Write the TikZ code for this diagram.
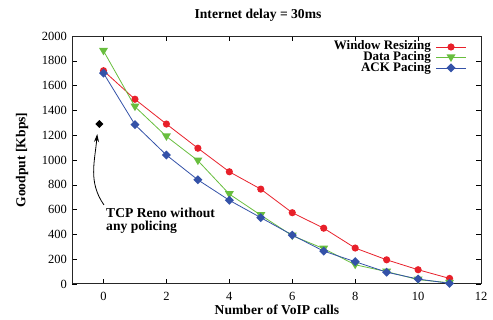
\documentclass[tikz,border=0pt]{standalone}
\usepackage{fontspec}
\setmainfont{Liberation Serif}
\usetikzlibrary{calc,arrows.meta}
\definecolor{wrred}{RGB}{232,32,42}
\definecolor{dpgreen}{RGB}{104,190,62}
\definecolor{apblue}{RGB}{52,82,168}

\tikzset{
  curve/.style={line width=0.8pt},
  lbl/.style={font=\bfseries\fontsize{13.6}{13}\selectfont, inner sep=0pt},
  keylbl/.style={font=\bfseries\fontsize{13}{13}\selectfont, inner sep=0pt, text height=8.5pt, text depth=1.5pt},
  ticklbl/.style={font=\fontsize{12.5}{13}\selectfont, inner sep=0pt},
  circmark/.style={fill=wrred},
  trimark/.style={fill=dpgreen},
  diamark/.style={fill=apblue}
}

\begin{document}
\begin{tikzpicture}[x=1pt,y=1pt]
  \useasboundingbox (0,0) rectangle (493,320);

  \node[lbl] (title) at (258,305) {Internet delay = 30ms};
  \node[lbl, rotate=90] (ylab) at (22,160) {Goodput [Kbps]};
  \node[lbl] (xlab) at (277,10) {Number of VoIP calls};

  \begin{scope}[shift={(103.5,36)}, x=31.46pt, y=0.124pt]
    % ticks and tick labels
    \foreach \i in {0,2,...,12} {
      \draw (\i,0) -- ++(0pt,5pt);
      \draw (\i,2000) -- ++(0pt,-5pt);
      \node[ticklbl, anchor=north] at ($(\i,0)+(0pt,-8pt)$) {\i};
    }
    \foreach \v in {0,200,...,2000} {
      \draw (-1,\v) -- ++(5pt,0pt);
      \draw (12,\v) -- ++(-5pt,0pt);
      \node[ticklbl, anchor=east] at ($(-1,\v)+(-5pt,0pt)$) {\v};
    }
    \draw[line width=1pt, black!85] (-1,0) rectangle (12,2000);

    % Window Resizing
    \draw[curve, wrred] (0,1720) -- (1,1490) -- (2,1290) -- (3,1095) -- (4,905) -- (5,765)
      -- (6,575) -- (7,450) -- (8,290) -- (9,195) -- (10,115) -- (11,45);
    \foreach \x/\y in {0/1720,1/1490,2/1290,3/1095,4/905,5/765,6/575,7/450,8/290,9/195,10/115,11/45}
      \fill[circmark] (\x,\y) circle (3.6pt);

    % Data Pacing
    \draw[curve, dpgreen] (0,1880) -- (1,1430) -- (2,1190) -- (3,995) -- (4,725) -- (5,555)
      -- (6,390) -- (7,285) -- (8,155) -- (9,100) -- (10,35) -- (11,10);
    \foreach \x/\y in {0/1880,1/1430,2/1190,3/995,4/725,5/555,6/390,7/285,8/155,9/100,10/35,11/10}
      \fill[trimark] ($(\x,\y)+(-4.5pt,3pt)$) -- ++(9pt,0pt) -- ++(-4.5pt,-7.5pt) -- cycle;

    % ACK Pacing
    \draw[curve, apblue] (0,1700) -- (1,1285) -- (2,1040) -- (3,840) -- (4,675) -- (5,535)
      -- (6,395) -- (7,265) -- (8,180) -- (9,95) -- (10,40) -- (11,5);
    \foreach \x/\y in {0/1700,1/1285,2/1040,3/840,4/675,5/535,6/395,7/265,8/180,9/95,10/40,11/5}
      \fill[diamark] ($(\x,\y)+(0pt,4.5pt)$) -- ++(4.5pt,-4.5pt) -- ++(-4.5pt,-4.5pt) -- ++(-4.5pt,4.5pt) -- cycle;

    % TCP Reno point
    \fill[black] ($(-0.13,1290)+(0pt,4pt)$) -- ++(4pt,-4pt) -- ++(-4pt,-4pt) -- ++(-4pt,4pt) -- cycle;
    \coordinate (reno) at ($(-0.2,1290)+(0pt,-10pt)$);
  \end{scope}

  % legend
  \node[keylbl, anchor=east] (wrlab) at (431,274) {Window Resizing};
  \node[keylbl, anchor=east] (dplab) at (431,263) {Data Pacing};
  \node[keylbl, anchor=east] (aplab) at (431,252) {ACK Pacing};
  \draw[curve, wrred] (436,273) -- (466,273);
  \fill[circmark] (451,273) circle (3.6pt);
  \draw[curve, dpgreen] (436,262.5) -- (466,262.5);
  \fill[trimark] (446.5,265.5) -- ++(9pt,0pt) -- ++(-4.5pt,-7.5pt) -- cycle;
  \draw[curve, apblue] (436,252) -- (466,252);
  \fill[diamark] (451,256.5) -- ++(4.5pt,-4.5pt) -- ++(-4.5pt,-4.5pt) -- ++(-4.5pt,4.5pt) -- cycle;

  % annotation
  \node[lbl, anchor=north west, align=left] (renolab) at (106,112) {TCP Reno without\\any policing};
  \coordinate (renostart) at (104,115);
  \draw[line width=0.8pt, -{Stealth[length=8pt,width=5pt]}] (renostart) to[out=125, in=-95] (reno);
\end{tikzpicture}
\end{document}
